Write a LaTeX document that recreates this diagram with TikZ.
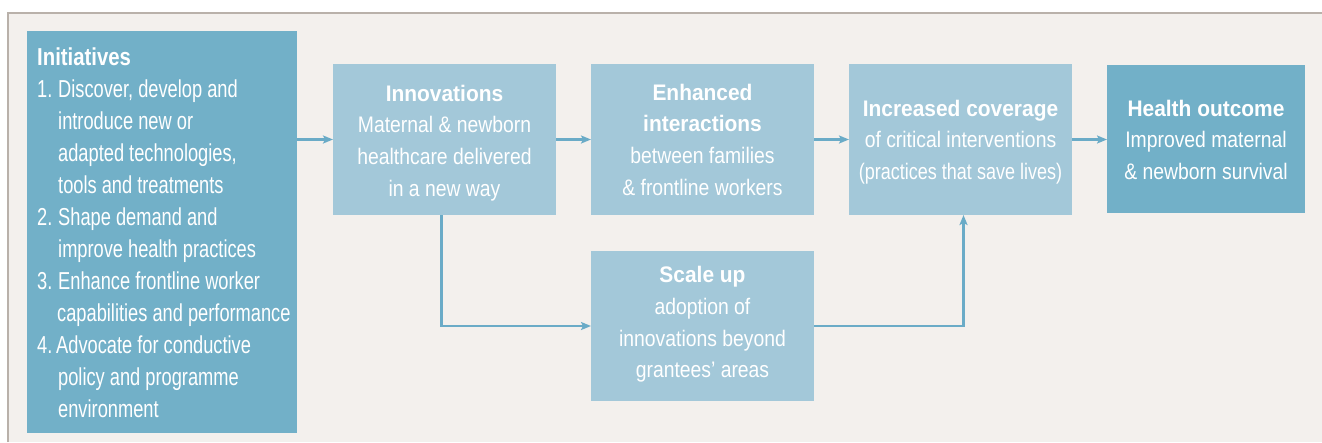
\documentclass[tikz,border=0pt]{standalone}
\usepackage{fontspec}
\setmainfont{Liberation Sans}
\newfontfamily\initrm[FakeStretch=0.745]{Liberation Sans}
\newfontfamily\initbf[FakeStretch=0.83]{Liberation Sans}
\newfontfamily\boxrm[FakeStretch=0.86]{Liberation Sans}
\newfontfamily\boxbf[FakeStretch=0.93]{Liberation Sans}
\usetikzlibrary{arrows.meta}
\definecolor{bgc}{HTML}{F3F0ED}
\definecolor{framec}{HTML}{B9B1AA}
\definecolor{darkblue}{HTML}{72B0C8}
\definecolor{lightblue}{HTML}{A3C8D9}
\definecolor{arrowblue}{HTML}{6AABC7}
\begin{document}
\begin{tikzpicture}[x=1pt,y=-1pt,
  darkbox/.style={fill=darkblue, draw=none, inner sep=0pt, outer sep=0pt, anchor=north west},
  lightbox/.style={fill=lightblue, draw=none, inner sep=0pt, outer sep=0pt, anchor=north west},
  boxtext/.style={text=white, align=center, inner sep=0pt, anchor=north, font=\boxrm\fontsize{22.5}{31.7}\selectfont},
  inittext/.style={text=white, align=left, inner sep=0pt, anchor=north west, font=\initrm\fontsize{24.5}{32}\selectfont},
  flow/.style={draw=arrowblue, line width=2.2pt, -{Stealth[length=10pt,width=8pt,inset=2pt]}}]
\useasboundingbox (0,0) rectangle (1322,442);
\fill[white] (0,0) rectangle (1322,442);
\fill[bgc] (8,13) rectangle (1322,442);
\draw[framec, line width=2pt] (8,442) -- (8,13) -- (1322,13);

% boxes
\node[darkbox, minimum width=270pt, minimum height=402pt] (init) at (27,31) {};
\node[lightbox, minimum width=223pt, minimum height=151pt] (innov) at (333,64) {};
\node[lightbox, minimum width=223pt, minimum height=151pt] (enh) at (591,64) {};
\node[lightbox, minimum width=223pt, minimum height=151pt] (incr) at (849,64) {};
\node[darkbox, minimum width=198pt, minimum height=148pt] (health) at (1107,65) {};
\node[lightbox, minimum width=223pt, minimum height=150pt] (scale) at (591,251) {};

% texts
\node[inittext] (initT) at (37,43) {\rule{0pt}{22pt}{\initbf\bfseries Initiatives}\\
\makebox[21pt][l]{1.}Discover, develop and\\
\hspace*{21pt}introduce new or\\
\hspace*{21pt}adapted technologies,\\
\hspace*{21pt}tools and treatments\\
\makebox[21pt][l]{2.}Shape demand and\\
\hspace*{21pt}improve health practices\\
\makebox[21pt][l]{3.}Enhance frontline worker\\
\hspace*{20pt}capabilities and performance\\
\makebox[19pt][l]{4.}Advocate for conductive\\
\hspace*{21pt}policy and programme\\
\hspace*{21pt}environment};

\node[boxtext] (innovT) at (444.5,79) {\rule{0pt}{22pt}{\boxbf\bfseries Innovations}\\Maternal \& newborn\\healthcare delivered\\in a new way};
\node[boxtext] (enhT) at (702.5,78) {\rule{0pt}{22pt}{\boxbf\bfseries Enhanced}\\{\boxbf\bfseries interactions}\\between families\\\& frontline workers};
\node[boxtext] (incrT) at (960.5,94) {\rule{0pt}{22pt}{\boxbf\bfseries Increased coverage}\\of critical interventions\\{\fontsize{22.5}{31.7}\selectfont\addfontfeature{FakeStretch=0.80}(practices that save lives)}};
\node[boxtext] (healthT) at (1206,94) {\rule{0pt}{22pt}{\boxbf\bfseries Health outcome}\\Improved maternal\\\& newborn survival};
\node[boxtext] (scaleT) at (702.5,260.5) {\rule{0pt}{22pt}{\boxbf\bfseries Scale up}\\adoption of\\innovations beyond\\grantees’ areas};

% connectors
\draw[flow] (init.east |- innov.west) -- (innov.west);
\draw[flow] (innov.east) -- (enh.west);
\draw[flow] (enh.east) -- (incr.west);
\draw[flow] (incr.east) -- (incr.east -| health.west);
\coordinate (innovDrop) at ([xshift=-3pt]innov.south);
\draw[flow] (innovDrop) |- (scale.west);
\coordinate (incrRise) at ([xshift=3pt]incr.south);
\draw[flow] (scale.east) -| (incrRise);
\end{tikzpicture}
\end{document}
